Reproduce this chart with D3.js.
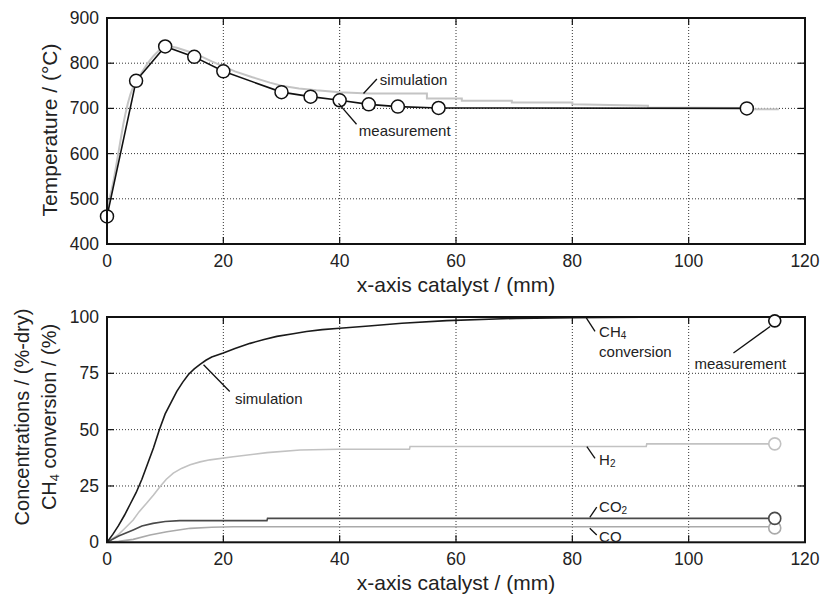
<!DOCTYPE html>
<html><head><meta charset="utf-8">
<script src="https://cdn.jsdelivr.net/npm/d3@7"></script>
<style>
html,body{margin:0;padding:0;background:#fff;}
text{font-family:"Liberation Sans",Arial,sans-serif;fill:#222;}
</style></head>
<body>
<svg id="chart" width="822" height="598"></svg>
<script>
// ---------- data ----------
const xTicks = [0, 20, 40, 60, 80, 100, 120];
const tempTicks = [400, 500, 600, 700, 800, 900];
const concTicks = [0, 25, 50, 75, 100];

// Top: temperature
const measX = [0, 5, 10, 15, 20, 30, 35, 40, 45, 50, 57, 110];
const measT = [461, 761, 837, 814, 782, 736, 726, 718, 709, 704, 701, 700];
const simX = [0, 0.4, 0.8, 1.2, 1.6, 2.0, 2.4, 2.8, 3.2, 3.6, 4.0, 4.5, 5, 6, 7, 8, 9, 10, 11, 12, 14, 16, 18, 20, 22, 25, 28, 30, 33, 36, 40, 45, 55, 55, 61, 61, 69.6, 69.6, 80, 80, 93, 93, 110, 110, 115.5];
const simT = [475, 500, 520, 545, 575, 605, 635, 665, 690, 712, 730, 748, 758, 780, 800, 816, 829, 836, 837, 834, 826, 816, 804, 793, 782, 769, 757, 750, 744, 740, 736, 733, 733, 722, 722, 717, 717, 713, 713, 709, 706, 702, 701, 698, 698];

// Bottom: concentrations / conversion (simulation)
const ch4X = [0, 1, 2, 3, 4, 5, 6, 7, 8, 9, 10, 11, 12, 13, 14, 15, 16, 17, 18, 20, 22, 24.6, 27, 29.2, 32, 34.3, 37, 40, 45, 50.7, 58.4, 70.4, 80, 98];
const ch4Y = [0, 3.5, 7.5, 12, 17, 22, 28, 35, 42, 50, 57, 62, 67, 71, 74.5, 77, 79, 80.8, 82.2, 84, 86, 88.3, 90, 91.4, 92.6, 93.6, 94.4, 95, 96, 97.2, 98.4, 99.4, 99.7, 100];
const h2X = [0, 2, 3, 4.5, 5.5, 6.8, 8, 9.1, 10.2, 11.4, 12.8, 14.3, 16, 17.7, 21.7, 27.5, 33.2, 39.8, 52, 52.1, 92.7, 92.8, 114];
const h2Y = [0, 3.5, 6, 9.9, 13.5, 17.3, 21, 24.7, 28, 30.7, 32.8, 34.4, 35.7, 36.6, 38, 39.8, 41, 41.3, 41.3, 42.5, 42.5, 43.7, 43.7];
const co2X = [0, 2, 4.5, 6, 7.9, 10, 12.5, 27.5, 27.6, 114];
const co2Y = [0, 2.8, 5.5, 7.2, 8.4, 9.2, 9.6, 9.6, 10.6, 10.6];
const coX = [0, 2, 4.5, 7.4, 10.3, 14.3, 18, 21.7, 114];
const coY = [0, 0.4, 1.3, 3.2, 4.7, 6.2, 6.7, 6.9, 6.9];

// Bottom: measurements at outlet
const outletX = 114.8;
const measCH4 = 98.3, measH2 = 43.7, measCO2 = 10.6, measCO = 6.4;

// ---------- drawing ----------
const svg = d3.select("#chart");
const left = 107, right = 805;
const x = d3.scaleLinear().domain([0, 120]).range([left, right]);
const yT = d3.scaleLinear().domain([400, 900]).range([244, 18]);
const yC = d3.scaleLinear().domain([0, 100]).range([542.3, 317]);

const TICKFS = 17.5, LABFS = 21, ANNFS = 15;

function frame(ys, yticks) {
  const g = svg.append("g");
  const [yb, yt] = ys.range();
  xTicks.slice(1, -1).forEach(t => {
    g.append("line").attr("x1", x(t)).attr("x2", x(t)).attr("y1", yt).attr("y2", yb)
      .attr("stroke", "#333").attr("stroke-width", 1).attr("stroke-dasharray", "1,2");
  });
  yticks.slice(1, -1).forEach(t => {
    g.append("line").attr("x1", left).attr("x2", right).attr("y1", ys(t)).attr("y2", ys(t))
      .attr("stroke", "#333").attr("stroke-width", 1).attr("stroke-dasharray", "1,2");
  });
  return g;
}

function axesOver(ys, yticks) {
  const g = svg.append("g");
  const [yb, yt] = ys.range();
  const L = 7;
  xTicks.slice(1, -1).forEach(t => {
    g.append("line").attr("x1", x(t)).attr("x2", x(t)).attr("y1", yb).attr("y2", yb - L).attr("stroke", "#111").attr("stroke-width", 1.2);
    g.append("line").attr("x1", x(t)).attr("x2", x(t)).attr("y1", yt).attr("y2", yt + L).attr("stroke", "#111").attr("stroke-width", 1.2);
  });
  yticks.slice(1, -1).forEach(t => {
    g.append("line").attr("x1", left).attr("x2", left + L).attr("y1", ys(t)).attr("y2", ys(t)).attr("stroke", "#111").attr("stroke-width", 1.2);
    g.append("line").attr("x1", right).attr("x2", right - L).attr("y1", ys(t)).attr("y2", ys(t)).attr("stroke", "#111").attr("stroke-width", 1.2);
  });
  g.append("rect").attr("x", left).attr("y", yt).attr("width", right - left).attr("height", yb - yt)
    .attr("fill", "none").attr("stroke", "#111").attr("stroke-width", 2);
  xTicks.forEach(t => {
    g.append("text").attr("x", x(t)).attr("y", yb + 17).attr("text-anchor", "middle")
      .attr("dominant-baseline", "central").attr("font-size", TICKFS).text(t);
  });
  yticks.forEach(t => {
    g.append("text").attr("x", left - 8).attr("y", ys(t)).attr("text-anchor", "end")
      .attr("dominant-baseline", "central").attr("font-size", TICKFS).text(t);
  });
  g.append("text").attr("x", (left + right) / 2).attr("y", yb + 40).attr("text-anchor", "middle")
    .attr("dominant-baseline", "central").attr("font-size", LABFS).text("x-axis catalyst / (mm)");
  return g;
}

function pointer(g, ys, x1, y1, x2, y2) {
  g.append("line").attr("x1", x(x1)).attr("y1", ys(y1)).attr("x2", x(x2)).attr("y2", ys(y2))
    .attr("stroke", "#111").attr("stroke-width", 1.3);
}
function label(g, ys, xv, yv, parts) {
  const t = g.append("text").attr("x", x(xv)).attr("y", ys(yv)).attr("dominant-baseline", "central")
    .attr("font-size", ANNFS);
  parts.forEach(p => {
    if (typeof p === "string") t.append("tspan").text(p);
    else t.append("tspan").attr("font-size", 10).attr("dy", 4).text(p.sub);
  });
}

// ===== Top chart =====
frame(yT, tempTicks);
const gTop = svg.append("g");
const simLine = d3.line().x(d => x(d[0])).y(d => yT(d[1]));
gTop.append("path").datum(d3.zip(simX, simT)).attr("d", simLine)
  .attr("fill", "none").attr("stroke", "#c4c4c4").attr("stroke-width", 2);
const measLine = d3.line().x(d => x(d[0])).y(d => yT(d[1]));
const measData = d3.zip(measX, measT);
gTop.append("path").datum(measData).attr("d", measLine)
  .attr("fill", "none").attr("stroke", "#111").attr("stroke-width", 1.6);
gTop.selectAll("circle").data(measData).join("circle")
  .attr("cx", d => x(d[0])).attr("cy", d => yT(d[1])).attr("r", 6.5)
  .attr("fill", "#fff").attr("stroke", "#111").attr("stroke-width", 1.5);
axesOver(yT, tempTicks);
pointer(gTop, yT, 44.1, 733, 46.4, 765);
label(gTop, yT, 46.9, 766, ["simulation"]);
pointer(gTop, yT, 39.8, 711, 42.9, 665);
label(gTop, yT, 43.3, 652, ["measurement"]);
svg.append("text").attr("transform", `translate(49,${(yT(400) + yT(900)) / 2 - 1}) rotate(-90)`)
  .attr("text-anchor", "middle").attr("dominant-baseline", "central").attr("font-size", LABFS)
  .text("Temperature / (°C)");

// ===== Bottom chart =====
frame(yC, concTicks);
const gBot = svg.append("g");
const ln = d3.line().x(d => x(d[0])).y(d => yC(d[1]));
const series = [
  {xs: coX, ys: coY, c: "#aaaaaa", m: measCO},
  {xs: h2X, ys: h2Y, c: "#c2c2c2", m: measH2},
  {xs: co2X, ys: co2Y, c: "#4a4a4a", m: measCO2},
  {xs: ch4X, ys: ch4Y, c: "#1a1a1a", m: measCH4}
];
series.forEach(s => {
  gBot.append("path").datum(d3.zip(s.xs, s.ys)).attr("d", ln)
    .attr("fill", "none").attr("stroke", s.c).attr("stroke-width", 1.6);
});
axesOver(yC, concTicks);
series.forEach(s => {
  svg.append("circle").attr("cx", x(outletX)).attr("cy", yC(s.m)).attr("r", 6)
    .attr("fill", "#fff").attr("stroke", s.c === "#1a1a1a" ? "#111" : s.c).attr("stroke-width", 1.6);
});
const gA = svg.append("g");
pointer(gA, yC, 16.6, 78.8, 21.1, 66.9);
label(gA, yC, 22, 64.1, ["simulation"]);
pointer(gA, yC, 82.4, 99.6, 83.9, 93.6);
label(gA, yC, 84.6, 93.6, ["CH", {sub: "4"}]);
label(gA, yC, 84.6, 84.7, ["conversion"]);
pointer(gA, yC, 107.7, 84, 114, 95.8);
label(gA, yC, 101, 79.8, ["measurement"]);
pointer(gA, yC, 82.5, 42.5, 83.9, 37.3);
label(gA, yC, 84.6, 37, ["H", {sub: "2"}]);
pointer(gA, yC, 83, 11.1, 84.2, 15.6);
label(gA, yC, 84.6, 16, ["CO", {sub: "2"}]);
pointer(gA, yC, 83, 6.2, 84.2, 3.2);
label(gA, yC, 84.6, 2.6, ["CO"]);

const cy = 417;
svg.append("text").attr("transform", `translate(22,${cy}) rotate(-90)`)
  .attr("text-anchor", "middle").attr("dominant-baseline", "central").attr("font-size", 20)
  .text("Concentrations / (%-dry)");
const t2 = svg.append("text").attr("transform", `translate(49,${cy}) rotate(-90)`)
  .attr("text-anchor", "middle").attr("dominant-baseline", "central").attr("font-size", 20);
t2.append("tspan").text("CH");
t2.append("tspan").attr("font-size", 13).attr("dy", 5).text("4");
t2.append("tspan").attr("dy", -5).text(" conversion / (%)");
</script>
</body></html>
